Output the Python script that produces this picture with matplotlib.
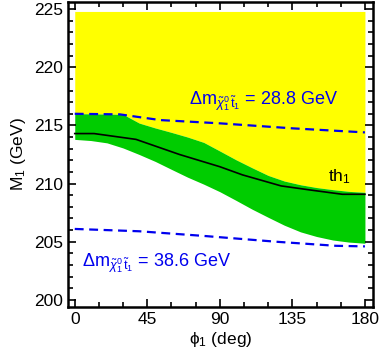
import numpy as np
import matplotlib
matplotlib.use('Agg')
from matplotlib import pyplot as plt
from matplotlib.ticker import MultipleLocator

plt.rcParams['font.family'] = ['Liberation Sans', 'DejaVu Sans']
plt.rcParams['mathtext.fontset'] = 'custom'
plt.rcParams['mathtext.rm'] = 'Liberation Sans'
plt.rcParams['mathtext.it'] = 'Liberation Sans:italic'

# band edges of the th_1 region, M_1 (GeV) vs phi_1 (deg)
phi = [0, 10, 20, 30, 40, 50, 60, 70, 80, 90, 100, 110, 120, 130, 140, 150, 160, 170, 180]
band_upper = [216.0, 216.0, 215.97, 215.95, 215.2, 214.78, 214.4, 214.0, 213.54, 212.8,
              212.05, 211.36, 210.7, 210.22, 209.9, 209.66, 209.48, 209.33, 209.25]
band_lower = [213.8, 213.7, 213.5, 213.06, 212.5, 211.9, 211.22, 210.55, 209.95, 209.3,
              208.56, 207.8, 207.1, 206.42, 205.85, 205.45, 205.15, 204.97, 204.87]

# central th_1 line
phi_th = [0, 12, 38, 65, 90, 104, 128, 146, 166, 180]
th_central = [214.3, 214.3, 213.8, 212.5, 211.45, 210.75, 209.8, 209.45, 209.08, 209.08]

# mass-difference contours
phi_dm288 = [0, 28, 53, 90, 135, 180]
dm_288 = [216.0, 215.95, 215.46, 215.18, 214.75, 214.4]
phi_dm386 = [0, 40, 80, 125, 162, 180]
dm_386 = [206.1, 205.9, 205.5, 205.0, 204.65, 204.6]
y_top = 224.8

fig = plt.figure(figsize=(3.81, 3.56), dpi=100)
ax = fig.add_axes([0.178, 0.138, 0.801, 0.856])

ax.fill_between(phi, band_upper, y_top, color='#ffff00', lw=0)
ax.fill_between(phi, band_lower, band_upper, color='#00cc00', lw=0)
ax.plot(phi_th, th_central, color='black', lw=1.2)
ax.plot(phi_dm288, dm_288, color='#0000ee', lw=1.6, ls=(0, (4, 2.5)))
ax.plot(phi_dm386, dm_386, color='#0000ee', lw=1.6, ls=(0, (4, 2.5)))

lbl = r'$\Delta\mathrm{m}_{\tilde{\chi}_1^0\,\tilde{\mathrm{t}}_1}$'
ax.text(71, 216.8, lbl + ' = 28.8 GeV', color='#0000ee', fontsize=13)
ax.text(4.5, 202.9, lbl + ' = 38.6 GeV', color='#0000ee', fontsize=13)
ax.text(157, 210.2, r'th$_1$', color='black', fontsize=12.5)

ax.set_xlim(-4.3, 185)
ax.set_ylim(199.4, 225.6)
ax.set_xticks([0, 45, 90, 135, 180])
ax.set_yticks([200, 205, 210, 215, 220, 225])
ax.xaxis.set_minor_locator(MultipleLocator(15))
ax.yaxis.set_minor_locator(MultipleLocator(1))
ax.tick_params(which='both', direction='in', top=True, right=True, width=1.2, labelsize=12.5)
ax.tick_params(which='major', length=6)
ax.tick_params(which='minor', length=3.5)
for s in ax.spines.values():
    s.set_linewidth(1.8)

ax.set_xlabel(r'$\mathrm{\phi_1}$ (deg)', fontsize=12.5, labelpad=2)
ax.set_ylabel(r'M$_1$ (GeV)', fontsize=12.5, labelpad=4)

fig.savefig('out.png', dpi=100)
